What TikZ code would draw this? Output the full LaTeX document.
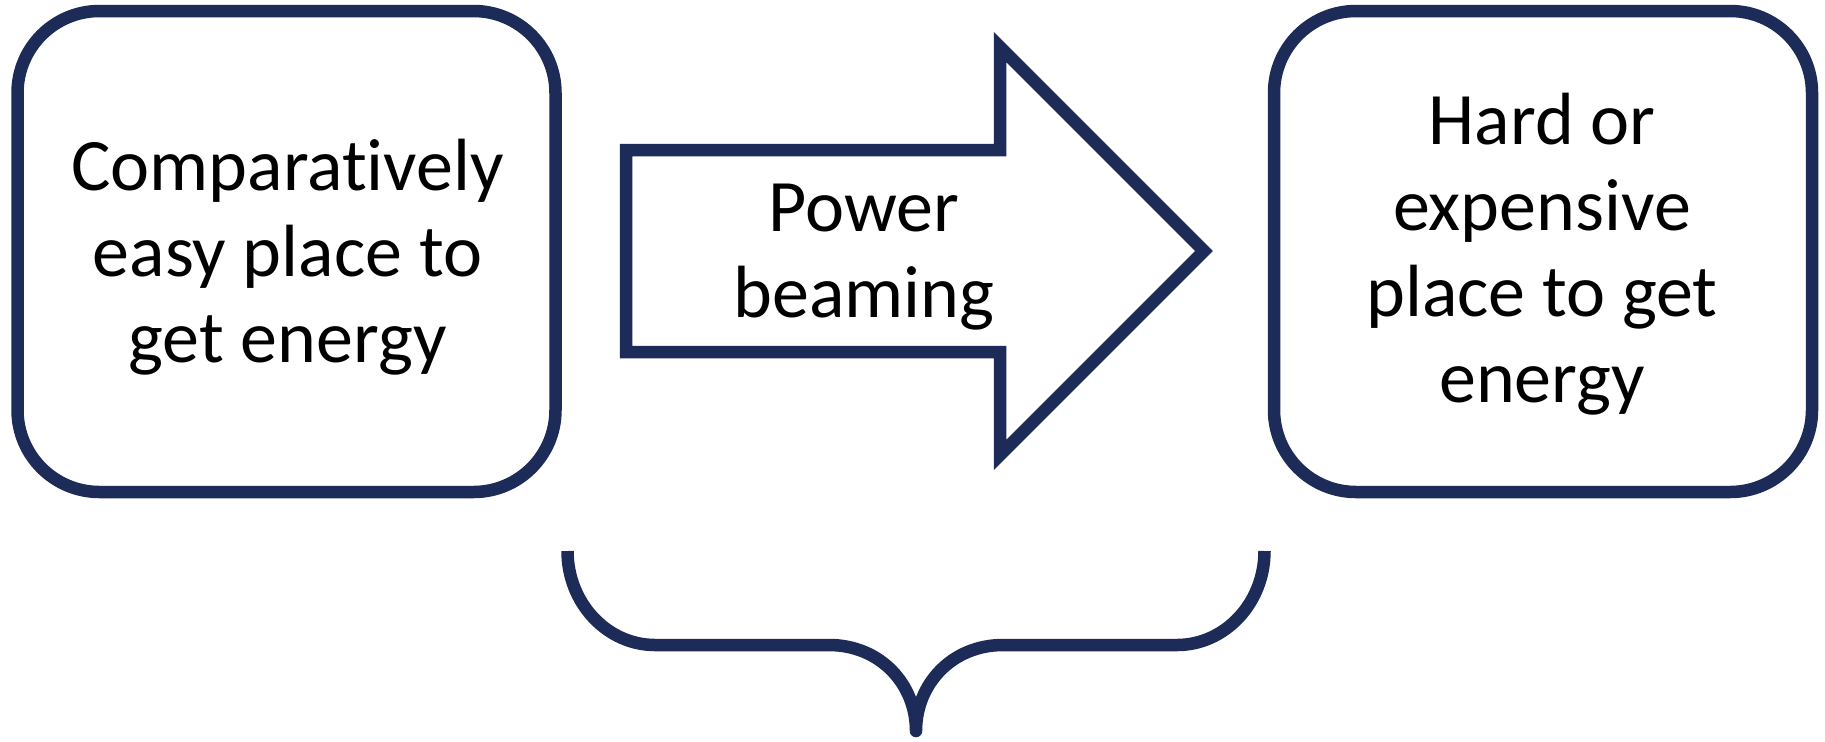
\documentclass[tikz,border=0pt]{standalone}
\usepackage{fontspec}
\setmainfont{Carlito}[RawFeature=-liga]
\definecolor{navy}{HTML}{1C2B57}
\begin{document}
\begin{tikzpicture}[x=0.5pt,y=-0.5pt,
  box/.style={draw=navy,line width=6.25pt,rounded corners=41pt,minimum width=269pt,minimum height=240.5pt,inner sep=0pt},
  lbl/.style={align=center,font=\fontsize{37pt}{43pt}\selectfont,text=black,inner sep=0pt},
  arrowshape/.style={draw=navy,line width=6.25pt,line join=miter},
  brace/.style={draw=navy,line width=6.25pt,line join=round,line cap=round}]
\useasboundingbox (0,0) rectangle (1825,741);
\node[box] (L) at (286.5,251.5) {};
\node[box] (R) at (1543,251.5) {};
\node[lbl] (Lt) at (287.5,257) {Comparatively\\easy place to\\get energy};
\node[lbl] (Rt) at (1542,254) {Hard or\\expensive\\place to get\\energy};
\draw[arrowshape] (626,150) -- (1000,150) -- (1000,47) -- (1204,251) -- (1000,455) -- (1000,352) -- (626,352) -- cycle;
\node[lbl] (At) at (864,257) {Power\\beaming};
\coordinate (b1) at (567.5,551);
\coordinate (b2) at (916,731);
\coordinate (b3) at (1264.5,551);
\draw[brace,line cap=butt] (b1) .. controls (567.5,603) and (607,645) .. (655,645) -- (829,645)
  .. controls (880,645) and (916,684) .. (b2)
  .. controls (916,684) and (952,645) .. (1003,645) -- (1177,645)
  .. controls (1225,645) and (1264.5,603) .. (b3);
\end{tikzpicture}
\end{document}
